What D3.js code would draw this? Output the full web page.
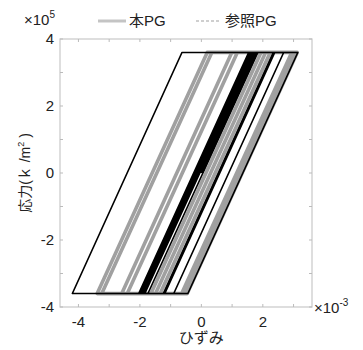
<!DOCTYPE html>
<html>
<head>
<meta charset="utf-8">
<script src="https://cdn.jsdelivr.net/npm/d3@7"></script>
<style>
  body { margin: 0; background: #fff; }
  svg text { font-family: "Liberation Sans", Arial, "Noto Sans CJK JP", sans-serif; fill: #222; }
</style>
</head>
<body>
<svg id="chart"></svg>
<script>
// strain (x10^-3) and stress (x10^5) at the turning points of each path
const honStrain = [0, 1.79, 3.04, -0.54, -3.39, 0.19, 2.94, -0.64, -3.24, 0.34, 2.24, -1.34, -2.59, 0.99, 3.12, -0.46, -2.41, 1.17, 2.09, -1.49, -1.64, 1.94];
const honStress = [0, 3.6, 3.6, -3.6, -3.6, 3.6, 3.6, -3.6, -3.6, 3.6, 3.6, -3.6, -3.6, 3.6, 3.6, -3.6, -3.6, 3.6, 3.6, -3.6, -3.6, 3.6];
const refStrain = [0, 1.79, 3.14, -0.44, -4.2, -0.63, 2.68, -0.9, -2.04, 1.54, 1.74, -1.84, -1.94, 1.64, 1.84, -1.74, -1.99, 1.59, 1.69, -1.89, -1.24, 2.34, 2.39, -1.19];
const refStress = [0, 3.6, 3.6, -3.6, -3.6, 3.6, 3.6, -3.6, -3.6, 3.6, 3.6, -3.6, -3.6, 3.6, 3.6, -3.6, -3.6, 3.6, 3.6, -3.6, -3.6, 3.6, 3.6, -3.6];
const seriesNames = ['本PG', '参照PG'];
const xTicks = [-4, -3, -2, -1, 0, 1, 2, 3];
const yTicks = [-4, -3, -2, -1, 0, 1, 2, 3, 4];
const xLabels = [-4, -2, 0, 2];
const yLabels = [-4, -2, 0, 2, 4];

const W = 363, H = 350;
const margin = { top: 39, right: 51, bottom: 43, left: 60 };
const width = W - margin.left - margin.right;
const height = H - margin.top - margin.bottom;

const svg = d3.select('#chart').attr('width', W).attr('height', H);

// the scan is soft, so blur the curves a little
svg.append('defs').append('filter').attr('id', 'soft')
  .attr('x', -0.1).attr('y', -0.1).attr('width', 1.2).attr('height', 1.2)
  .append('feGaussianBlur').attr('stdDeviation', 0.6);

const g = svg.append('g').attr('transform', `translate(${margin.left},${margin.top})`);

const x = d3.scaleLinear().domain([-4.6, 3.6]).range([0, width]);
const y = d3.scaleLinear().domain([-4, 4]).range([height, 0]);

// data lines
const line = d3.line().x(d => x(d[0])).y(d => y(d[1]));
const hon = honStrain.map((v, i) => [v, honStress[i]]);
const ref = refStrain.map((v, i) => [v, refStress[i]]);

const curves = g.append('g').attr('filter', 'url(#soft)');
curves.append('path').datum(hon)
  .attr('d', line).attr('fill', 'none')
  .attr('stroke', '#8f8f8f').attr('stroke-width', 3.6)
  .attr('stroke-opacity', 0.85).attr('stroke-linejoin', 'round');

curves.append('path').datum(ref)
  .attr('d', line).attr('fill', 'none')
  .attr('stroke', '#000').attr('stroke-width', 1.5)
  .attr('stroke-linejoin', 'round');

// frame + inward ticks on all sides
g.append('rect').attr('width', width).attr('height', height)
  .attr('fill', 'none').attr('stroke', '#c8c8c8').attr('stroke-width', 1.2);

const tk = 3;
g.selectAll('.xt').data(xTicks).enter().append('path')
  .attr('d', d => `M${x(d)},${height}v${-tk}M${x(d)},0v${tk}`)
  .attr('stroke', '#bbb');
g.selectAll('.yt').data(yTicks).enter().append('path')
  .attr('d', d => `M0,${y(d)}h${tk}M${width},${y(d)}h${-tk}`)
  .attr('stroke', '#bbb');

// tick labels
g.selectAll('.xl').data(xLabels).enter().append('text')
  .attr('x', d => x(d)).attr('y', height + 20)
  .attr('text-anchor', 'middle').attr('font-size', 15)
  .text(d => d);
g.selectAll('.yl').data(yLabels).enter().append('text')
  .attr('x', -6).attr('y', d => y(d) + 5)
  .attr('text-anchor', 'end').attr('font-size', 15)
  .text(d => d);

// exponents
const ex5 = svg.append('text').attr('x', 24).attr('y', 25).attr('font-size', 15);
ex5.append('tspan').text('×10');
ex5.append('tspan').attr('font-size', 10).attr('dy', -7).text('5');
const ex3 = svg.append('text').attr('x', 314).attr('y', 313).attr('font-size', 15);
ex3.append('tspan').text('×10');
ex3.append('tspan').attr('font-size', 10).attr('dy', -7).text('-3');

// axis titles
svg.append('text').attr('x', margin.left + x(0)).attr('y', 343)
  .attr('text-anchor', 'middle').attr('font-size', 15).text('ひずみ');
const yt = svg.append('text')
  .attr('transform', `translate(30,${margin.top + y(0)}) rotate(-90)`)
  .attr('text-anchor', 'middle').attr('font-size', 14);
yt.append('tspan').text('応力(ｋ /m');
yt.append('tspan').attr('font-size', 9).attr('dy', -6).text('2');
yt.append('tspan').attr('dy', 6).text(' )');

// legend
const leg = svg.append('g');
leg.append('line').attr('x1', 98).attr('x2', 126).attr('y1', 21).attr('y2', 21)
  .attr('stroke', '#c4c4c4').attr('stroke-width', 3);
leg.append('text').attr('x', 129).attr('y', 26).attr('font-size', 15).text(seriesNames[0]);
leg.append('line').attr('x1', 196).attr('x2', 221).attr('y1', 21).attr('y2', 21)
  .attr('stroke', '#cfcfcf').attr('stroke-width', 2).attr('stroke-dasharray', '3,2');
leg.append('text').attr('x', 225).attr('y', 26).attr('font-size', 15).text(seriesNames[1]);
</script>
</body>
</html>
